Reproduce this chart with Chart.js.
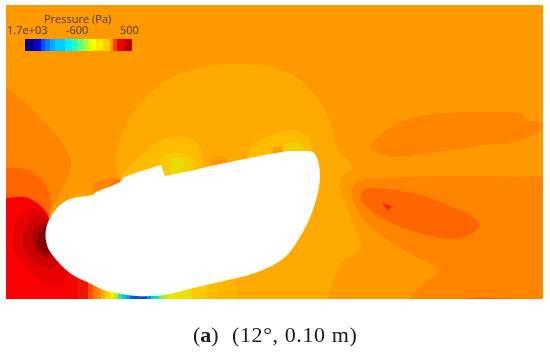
<!DOCTYPE html>
<html>
<head>
<meta charset="utf-8">
<script src="https://cdn.jsdelivr.net/npm/chart.js@4"></script>
<style>
html, body { margin: 0; padding: 0; background: #fff; }
canvas { display: block; }
</style>
</head>
<body>
<canvas id="chart" width="550" height="354"></canvas>
<script>
// contour outlines, in image pixels
// a repeated point keeps a sharp corner in the spline
var field = [[0,0],[550,0],[550,310],[0,310],[0,0]];
var leftOrange = [[0,84],[6,88],[20,98],[40,118],[52,130],[60,140],[67,151],[71,162],[70,170],[68,177],[58,197],[50,213],[60,240],[60,310],[60,310],[0,310],[0,310],[0,84]];
var leftDeep = [[0,168],[6,168],[20,168],[30,171],[37,175],[44,183],[48,190],[51,205],[49,214],[60,240],[60,310],[60,310],[0,310],[0,310],[0,168]];
var leftRed = [[0,198],[6,198],[24,197],[37,203],[46,212],[50,222],[60,245],[77,278],[77,310],[77,310],[0,310],[0,310],[0,198]];
var core1 = [[33,208],[22,213],[14,228],[14,248],[24,265],[40,280],[55,287],[64,282],[66,268],[55,235],[46,214],[33,208]];
var core2 = [[37,216],[27,224],[22,238],[25,252],[34,263],[47,268],[56,265],[56,240],[47,218],[37,216]];
var core3 = [[42,222],[33,232],[33,243],[38,253],[46,258],[52,255],[50,225],[42,222]];
var core4 = [[47,225],[38,233],[36,241],[40,250],[48,255],[52,250],[50,228],[47,225]];
var dome = [[120,179],[116,167],[117,150],[123,130],[140,103],[157,87],[180,73],[210,66],[240,64],[265,66],[287,72],[300,80],[312,92],[322,105],[330,122],[335,140],[339,150],[346,159],[353,167],[346,173],[341,180],[340,187],[347,207],[355,228],[362,247],[355,254],[343,261],[335,278],[328,297],[326,310],[326,310],[225,310],[225,310],[225,275],[120,179]];
var yellowLeft = [[123,173],[140,157],[157,142],[173,137],[190,138],[200,147],[203,163],[203,175],[203,175],[123,185],[123,173]];
var yellowLeft2 = [[160,158],[170,153],[187,155],[195,162],[194,172],[194,172],[165,178],[160,158]];
var yellowLeft3 = [[172,160],[178,157],[184,161],[183,172],[183,172],[172,174],[172,160]];
var blobMid = [[210,169],[213,159],[220,156],[227,159],[230,167],[210,169]];
var yellowRight = [[247,160],[250,147],[267,137],[287,130],[307,135],[311,143],[313,155],[313,155],[247,160]];
var yellowRight2 = [[282,155],[285,145],[293,142],[302,145],[305,155],[305,155],[282,155]];
var blobDot = [[272,156],[274,148],[278,147],[282,149],[283,155],[272,156]];
var blobLeft = [[95,194],[93,185],[98,181],[113,178],[120,180],[118,186],[95,196],[95,194]];
var blobEdge = [[108,188],[114,182],[120,180],[121,184],[108,190],[108,188]];
var blobTip = [[72,200],[76,194],[82,192],[86,197],[72,202],[72,200]];
var wakeTop = [[370,148],[375,140],[390,128],[413,118],[443,113],[480,112],[520,113],[527,120],[542,123],[543,128],[533,135],[510,143],[480,145],[453,150],[427,153],[403,157],[383,155],[370,148]];
var wakeLow = [[351,190],[360,180],[403,177],[437,176],[487,176],[550,177],[550,177],[550,310],[550,310],[400,310],[400,310],[420,287],[438,270],[417,257],[387,240],[363,218],[353,200],[351,190]];
var wakeDeep = [[360,197],[365,189],[387,189],[420,195],[453,207],[475,218],[479,225],[473,233],[453,239],[427,235],[403,228],[377,215],[363,203],[360,197]];
var wakeRed = [[382,203],[392,206],[388,211],[382,203]];
var wakeFloor = [[463,299],[480,297],[520,299],[463,299]];
var body = [[307,151],[313,152],[317,158],[319,165],[320,175],[319,187],[316,200],[311,215],[304,230],[298,240],[290,252],[280,261],[267,268],[252,274],[237,278],[215,283],[193,288],[178,292],[163,295],[150,296],[137,296],[122,294],[107,291],[97,287],[87,282],[78,278],[70,273],[61,265],[54,257],[49,250],[46.5,243],[45.5,235],[47,225],[52,215],[60,205],[70,199],[80,197],[93,195],[93,195],[96,192],[96,192],[120,182],[123,178],[140,171.5],[161,165],[161,165],[165,176],[165,176],[190,171],[213,165.5],[247,158.5],[270,154],[282,152],[290,151],[307,151]];

// vertical colour stripes along the bottom edge under the body
var floorEdges = [77,88,93,97,101,105,110,114,118,122,126,130,134,147,151,155,159,163,167,172,192,207,217,237];
var floorColors = ['#ee1500','#ff5000','#ff7700','#ff8a00','#ffaa00','#ffd000','#f0f000','#b0f030','#40e090','#00d0d0','#00a0f0','#0060f0','#0050e0','#0090f0','#00d0e0','#20e0a0','#70f060','#b0f020','#dcea00','#eee000','#ffc800','#ffbb00','#ffb400'];

// colour bar
var barEdges = [25,35,41,45,50,55,65,72,77,83,88,92,96,103,110,113,117,125,132];
var barColors = ['#000090','#0000e0','#0050ff','#0080ff','#00b0ff','#00ccff','#00f4ff','#20ffc0','#60ff80','#a0ff40','#e0ff00','#ffff00','#ffe800','#ffd000','#ff9900','#ff4000','#f00000','#b80000'];
var barTop = 39;
var barBottom = 51;
var barTicks = ['1.7e+03','-600','500'];
var barTickX = [7,66,120];
var barTitle = 'Pressure (Pa)';

var layers = [
    [leftOrange,'#ff8400'], [leftDeep,'#ff6600'], [leftRed,'#fa0000'],
    [core1,'#e60000'], [core2,'#cc0000'], [core3,'#b00000'], [core4,'#880000'],
    [dome,'#ffaa00'], [yellowLeft,'#ffbb00'], [yellowLeft2,'#f6cc00'], [yellowLeft3,'#e8dd00'],
    [blobMid,'#ff9900'], [yellowRight,'#ffbb00'], [yellowRight2,'#f0d000'], [blobDot,'#ff9900'],
    [blobLeft,'#ff8400'], [blobEdge,'#ff6600'], [blobTip,'#ffaa00'],
    [wakeTop,'#ff8400'], [wakeLow,'#ff8400'], [wakeDeep,'#ff6600'], [wakeRed,'#ff2200'], [wakeFloor,'#ff6600']
];

function toPoints(list) {
    return list.map(function(p) { return {x: p[0], y: p[1]}; });
}

function polygon(list, color, tension) {
    return {
        data: toPoints(list),
        showLine: true,
        fill: 'shape',
        backgroundColor: color,
        borderWidth: 0,
        pointRadius: 0,
        tension: tension
    };
}

function stripes(edges, colors, top, bottom) {
    var out = [];
    for (var i = 0; i < colors.length; i++) {
        var a = edges[i], b = edges[i + 1];
        out.push(polygon([[a,top],[b,top],[b,bottom],[a,bottom],[a,top]], colors[i], 0));
    }
    return out;
}

var datasets = [polygon(field, '#ff9900', 0)];
for (var i = 0; i < layers.length; i++) {
    datasets.push(polygon(layers[i][0], layers[i][1], layers[i][0].length > 4 ? 0.35 : 0));
}
datasets = datasets.concat(stripes(floorEdges, floorColors, 265, 310));
datasets.push(polygon(body, '#ffffff', 0.35));
datasets = datasets.concat(stripes(barEdges, barColors, barTop, barBottom));

// chart.js paints the first dataset last, so flip the order
datasets.forEach(function(d, n) { d.order = datasets.length - n; });

var labelsPlugin = {
    id: 'labels',
    afterDraw: function(chart) {
        var ctx = chart.ctx, sx = chart.scales.x, sy = chart.scales.y;
        ctx.save();
        ctx.textBaseline = 'alphabetic';
        ctx.fillStyle = '#3a3a3a';
        ctx.font = '11px "Open Sans"';
        ctx.fillText(barTitle, sx.getPixelForValue(44), sy.getPixelForValue(23));
        for (var i = 0; i < barTicks.length; i++) {
            ctx.fillText(barTicks[i], sx.getPixelForValue(barTickX[i]), sy.getPixelForValue(34));
        }
        ctx.fillStyle = '#1a1a1a';
        ctx.font = '22px "Liberation Serif"';
        var x = sx.getPixelForValue(193), base = sy.getPixelForValue(342);
        ctx.fillText('(', x, base);
        x += ctx.measureText('(').width;
        ctx.font = 'bold 22px "Liberation Serif"';
        ctx.fillText('a', x, base);
        x += ctx.measureText('a').width;
        ctx.font = '22px "Liberation Serif"';
        ctx.fillText(')', x, base);
        ctx.letterSpacing = '0.6px';
        ctx.fillText('(12°, 0.10 m)', sx.getPixelForValue(232), base);
        ctx.restore();
    }
};

new Chart(document.getElementById('chart'), {
    type: 'scatter',
    data: {datasets: datasets},
    plugins: [labelsPlugin],
    options: {
        responsive: false,
        animation: false,
        events: [],
        layout: {padding: {left: 6, right: 7, top: 5, bottom: 55}},
        plugins: {legend: {display: false}, tooltip: {enabled: false}},
        scales: {
            x: {type: 'linear', min: 6, max: 543, display: false},
            y: {type: 'linear', min: 5, max: 299, reverse: true, display: false}
        }
    }
});
</script>
</body>
</html>
